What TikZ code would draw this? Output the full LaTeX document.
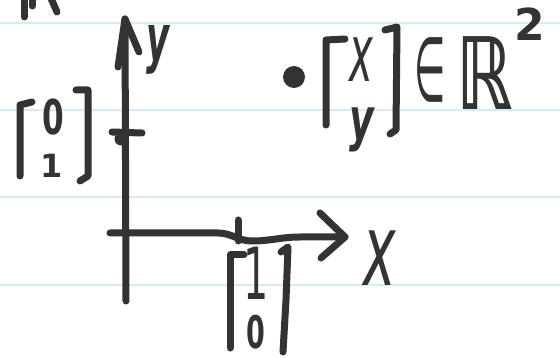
\documentclass[tikz,border=0pt]{standalone}
\usepackage{fontspec}
\usepackage{graphicx}
\newfontfamily\hand{DejaVu Sans}
\definecolor{ink}{HTML}{333333}
\definecolor{ruling}{HTML}{D2ECFA}

\begin{document}
\begin{tikzpicture}[x=1pt,y=-1pt,
  pen/.style={draw=ink,line width=7pt,line cap=round,line join=round},
  hw/.style={text=ink,inner sep=0pt}]
\fill[white] (0,0) rectangle (560,358);
\useasboundingbox (0,0) rectangle (560,358);
\foreach \r in {23,110,197,285}
  \draw[ruling,line width=2pt] (0,\r) -- (560,\r);

\coordinate (ybot) at (126,301);
\coordinate (ytip) at (125,19);
\coordinate (yl) at (118,67);
\coordinate (yr) at (139,52);
\coordinate (yt1) at (112,132);
\coordinate (yt2) at (142,133);
\coordinate (xbot) at (110,233);
\coordinate (xtip) at (345,237);
\coordinate (xu) at (320,213);
\coordinate (xd) at (321,258);
\coordinate (xt1) at (238,220);
\coordinate (xt2) at (238,241);

\node[hw,font=\hand\bfseries\itshape\fontsize{64}{64}\selectfont] (ylab) at (158,50) {\scalebox{0.55}[1]{y}};
\node[hw,font=\hand\itshape\fontsize{100}{100}\selectfont] (xlab) at (380,258) {\scalebox{0.55}[1]{x}};
\node[hw,font=\hand\bfseries\fontsize{48}{48}\selectfont] (zeroA) at (53,117) {\scalebox{0.65}[1]{0}};
\node[hw,font=\hand\bfseries\fontsize{32}{32}\selectfont] (oneA) at (52,166) {1};
\node[hw,font=\hand\fontsize{72}{72}\selectfont] (oneB) at (256,273) {\scalebox{0.55}[1]{1}};
\node[hw,font=\hand\bfseries\fontsize{45}{45}\selectfont] (zeroB) at (256,332) {\scalebox{0.6}[1]{0}};
\node[hw,font=\hand\itshape\fontsize{80}{80}\selectfont] (xent) at (361,60) {\scalebox{0.5}[1]{x}};
\node[hw,font=\hand\bfseries\itshape\fontsize{58}{58}\selectfont] (yent) at (362,130) {\scalebox{0.65}[1]{y}};
\node[hw,font=\hand\fontsize{90}{90}\selectfont] (elem) at (430,70) {\scalebox{0.4}[1]{∈}};
\node[hw,font=\hand\bfseries\fontsize{100}{100}\selectfont] (reals) at (485,73) {\scalebox{0.7}[1]{ℝ}};
\node[hw,font=\hand\bfseries\fontsize{44}{44}\selectfont] (sq) at (530,24) {2};
\node[circle,fill=ink,minimum size=22pt,inner sep=0pt] (pt) at (294,77) {};
\node[circle,fill=ink,minimum size=13pt,inner sep=0pt] (blob) at (121,139) {};

\draw[pen] (ybot) -- (ytip);
\draw[pen] (yl) -- (ytip) -- (yr);
\draw[pen] (yt1) -- (yt2);
\draw[pen] (xbot) -- (218,233) to[out=0,in=180] (252,241) to[out=0,in=180] (300,237) -- (xtip);
\draw[pen] (xu) -- (xtip) -- (xd);
\draw[pen] (xt1) -- (xt2);

\draw[pen] (32,102) -- (20,105) -- (20,176);
\draw[pen] (76,90) -- (88,90) -- (88,176) -- (80,181);
\draw[pen] (244,255) -- (230,255) -- (230,348);
\draw[pen] (281,252) -- (288,247) -- (286,300) -- (283,352);
\draw[pen] (345,39) -- (326,40) -- (326,125);
\draw[pen] (385,30) -- (397,27) -- (396,130) -- (390,134);

\draw[pen] (24,-4) -- (24,17);
\draw[pen] (32,-4) -- (32,6);
\draw[pen] (50,-4) -- (57,12);
\end{tikzpicture}
\end{document}
